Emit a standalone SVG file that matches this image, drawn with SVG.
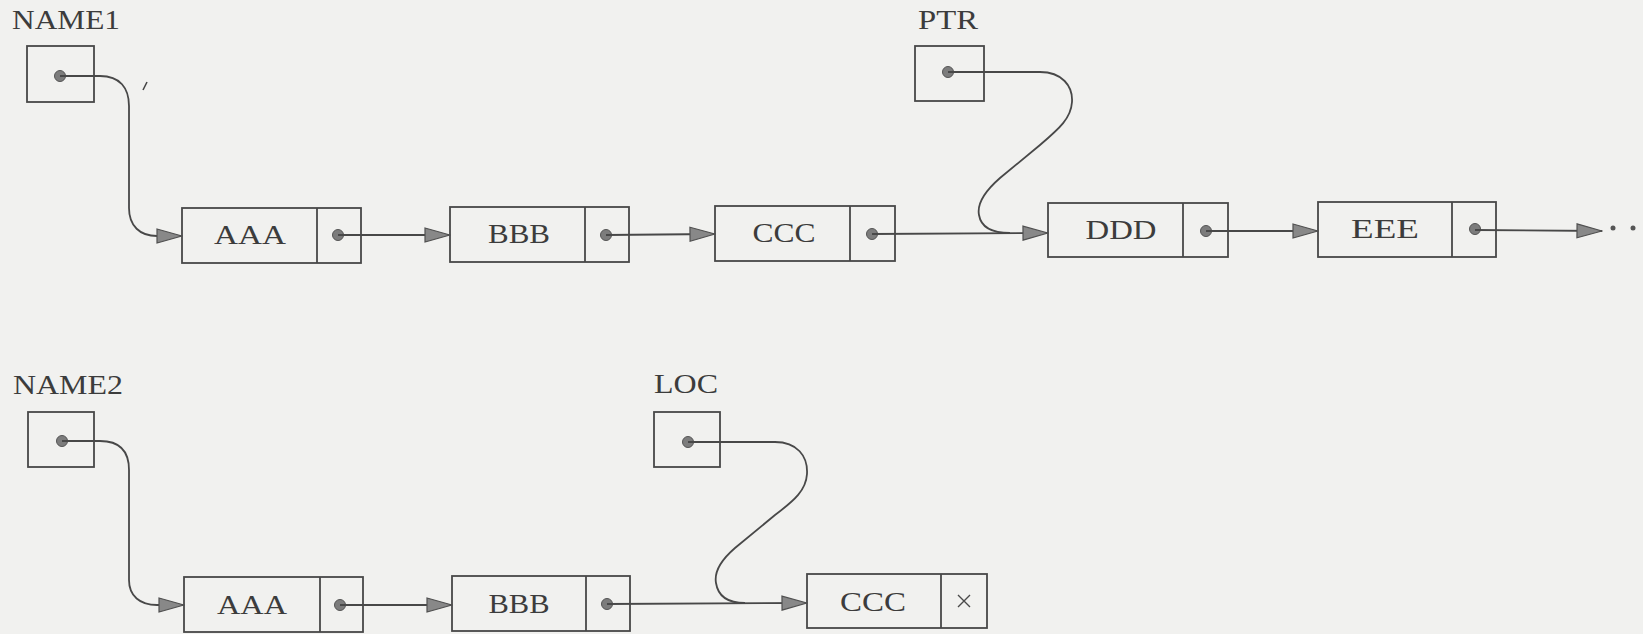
<svg xmlns="http://www.w3.org/2000/svg" width="1643" height="634" viewBox="0 0 1643 634">
<defs>
<style>
.box{fill:none;stroke:#484848;stroke-width:1.8}
.div{stroke:#484848;stroke-width:1.8}
.dot{fill:#7c7c7c;stroke:#555;stroke-width:1}
.lbl{font-family:"Liberation Serif","Times New Roman",serif;font-size:28px;fill:#3c3c3c}
.val{font-family:"Liberation Serif","Times New Roman",serif;font-size:28px;fill:#3c3c3c;text-anchor:middle}
.con{fill:none;stroke:#484848;stroke-width:1.8}
.arr{marker-end:url(#ah)}
</style>
<marker id="ah" markerUnits="userSpaceOnUse" markerWidth="27" markerHeight="17" refX="26" refY="8" orient="auto">
<path d="M1,1 L26,8 L1,15 Z" fill="#888" stroke="#505050" stroke-width="1.2"/>
</marker>
</defs>
<rect width="1643" height="634" fill="#f1f1ef"/>

<g id="name1">
<text class="lbl" x="12" y="29" textLength="108" lengthAdjust="spacingAndGlyphs">NAME1</text>
<rect class="box" x="27" y="46" width="67" height="56"/>
<circle class="dot" cx="60" cy="76" r="5.5"/>
</g>
<g id="ptr">
<text class="lbl" x="918" y="29" textLength="60" lengthAdjust="spacingAndGlyphs">PTR</text>
<rect class="box" x="915" y="46" width="69" height="55"/>
<circle class="dot" cx="948" cy="72" r="5.5"/>
</g>
<g id="aaa1">
<rect class="box" x="182" y="208" width="179" height="55"/>
<line class="div" x1="317" y1="208" x2="317" y2="263"/>
<text class="val" x="250" y="244" textLength="72" lengthAdjust="spacingAndGlyphs">AAA</text>
<circle class="dot" cx="338" cy="235" r="5.5"/>
</g>
<g id="bbb1">
<rect class="box" x="450" y="207" width="179" height="55"/>
<line class="div" x1="585" y1="207" x2="585" y2="262"/>
<text class="val" x="519" y="243" textLength="62" lengthAdjust="spacingAndGlyphs">BBB</text>
<circle class="dot" cx="606" cy="235" r="5.5"/>
</g>
<g id="ccc1">
<rect class="box" x="715" y="206" width="180" height="55"/>
<line class="div" x1="850" y1="206" x2="850" y2="261"/>
<text class="val" x="784" y="242" textLength="63" lengthAdjust="spacingAndGlyphs">CCC</text>
<circle class="dot" cx="872" cy="234" r="5.5"/>
</g>
<g id="ddd1">
<rect class="box" x="1048" y="203" width="180" height="54"/>
<line class="div" x1="1183" y1="203" x2="1183" y2="257"/>
<text class="val" x="1121" y="239" textLength="71" lengthAdjust="spacingAndGlyphs">DDD</text>
<circle class="dot" cx="1206" cy="231" r="5.5"/>
</g>
<g id="eee1">
<rect class="box" x="1318" y="202" width="178" height="55"/>
<line class="div" x1="1452" y1="202" x2="1452" y2="257"/>
<text class="val" x="1385" y="238" textLength="68" lengthAdjust="spacingAndGlyphs">EEE</text>
<circle class="dot" cx="1475" cy="229" r="5.5"/>
</g>

<g id="name2">
<text class="lbl" x="13" y="394" textLength="110" lengthAdjust="spacingAndGlyphs">NAME2</text>
<rect class="box" x="28" y="412" width="66" height="55"/>
<circle class="dot" cx="62" cy="441" r="5.5"/>
</g>
<g id="loc">
<text class="lbl" x="654" y="393" textLength="64" lengthAdjust="spacingAndGlyphs">LOC</text>
<rect class="box" x="654" y="412" width="66" height="55"/>
<circle class="dot" cx="688" cy="442" r="5.5"/>
</g>
<g id="aaa2">
<rect class="box" x="184" y="577" width="179" height="55"/>
<line class="div" x1="320" y1="577" x2="320" y2="632"/>
<text class="val" x="252" y="614" textLength="70" lengthAdjust="spacingAndGlyphs">AAA</text>
<circle class="dot" cx="340" cy="605" r="5.5"/>
</g>
<g id="bbb2">
<rect class="box" x="452" y="576" width="178" height="55"/>
<line class="div" x1="586" y1="576" x2="586" y2="631"/>
<text class="val" x="519" y="613" textLength="61" lengthAdjust="spacingAndGlyphs">BBB</text>
<circle class="dot" cx="607" cy="604" r="5.5"/>
</g>
<g id="ccc2">
<rect class="box" x="807" y="574" width="180" height="54"/>
<line class="div" x1="941" y1="574" x2="941" y2="628"/>
<text class="val" x="873" y="611" textLength="66" lengthAdjust="spacingAndGlyphs">CCC</text>
<path d="M958,595 L970,607 M970,595 L958,607" stroke="#4a4a4a" stroke-width="1.4" fill="none"/>
</g>

<g id="connectors">
<path class="con arr" d="M60,76 L100,76 C120,76 129,88 129,106 L129,208 C129,226 140,236 157,236 L182,236"/>
<path class="con arr" d="M338,235 L450,235"/>
<path class="con arr" d="M606,235 L715,234"/>
<path class="con arr" d="M872,234 L1048,233"/>
<path class="con" d="M948,72 L1040,72 C1062,72 1073,86 1072,102 C1071,118 1060,128 1040,145 L1000,178 C984,192 977,205 979,215 C981,227 992,233 1010,233"/>
<path class="con arr" d="M1206,231 L1318,231"/>
<path class="con arr" d="M1475,230 L1602,231"/>
<circle cx="1613" cy="228" r="2.5" fill="#555"/>
<circle cx="1633" cy="228" r="2.5" fill="#555"/>
<path class="con arr" d="M62,441 L100,441 C120,441 129,452 129,470 L129,580 C129,596 140,605 157,605 L184,605"/>
<path class="con arr" d="M340,605 L452,605"/>
<path class="con arr" d="M607,604 L807,603"/>
<path class="con" d="M688,442 L775,442 C797,442 808,456 807,474 C806,490 795,500 775,515 L735,548 C720,561 714,572 716,583 C718,596 728,603 745,603"/>
</g>
<path d="M143,90 L147,82" stroke="#444" stroke-width="1.6"/>
</svg>
